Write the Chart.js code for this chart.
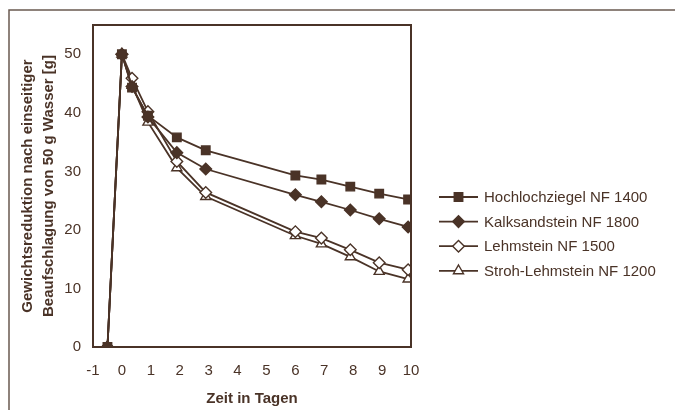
<!DOCTYPE html>
<html>
<head>
<meta charset="utf-8">
<script src="https://cdn.jsdelivr.net/npm/chart.js@4"></script>
<style>
  html, body { margin: 0; padding: 0; background: #fff; }
  #wrap { width: 675px; height: 410px; }
</style>
</head>
<body>
<div id="wrap"><canvas id="myChart" width="675" height="410"></canvas></div>
<script>
const braun = '#4a3327';

// Zeitpunkte (Tage) und Messwerte
const tage = [-0.5, 0, 0.35, 0.9, 1.9, 2.9, 6.0, 6.9, 7.9, 8.9, 9.9];
const hochlochziegel = [0, 50, 44.3, 39.5, 35.8, 33.6, 29.3, 28.6, 27.4, 26.2, 25.2];
const kalksandstein = [0, 50, 44.5, 39.3, 33.2, 30.4, 26.0, 24.8, 23.4, 21.9, 20.5];
const lehmstein = [0, 50, 45.9, 40.2, 31.7, 26.4, 19.7, 18.6, 16.6, 14.4, 13.2];
const strohLehmstein = [0, 50, 44.7, 38.4, 30.6, 25.7, 19.0, 17.6, 15.4, 12.9, 11.6];

const serienNamen = ['Hochlochziegel NF 1400', 'Kalksandstein NF 1800', 'Lehmstein NF 1500', 'Stroh-Lehmstein NF 1200'];
const yTicks = [0, 10, 20, 30, 40, 50];

function punkte(werte) {
    return werte.map((v, i) => ({ x: tage[i], y: v }));
}

const stile = [
    { pointStyle: 'rect', radius: 6, fill: braun },
    { pointStyle: 'rectRot', radius: 5.8, fill: braun },
    { pointStyle: 'rectRot', radius: 5.8, fill: '#ffffff' },
    { pointStyle: 'triangle', radius: 5.8, fill: '#ffffff' }
];
const reihen = [hochlochziegel, kalksandstein, lehmstein, strohLehmstein];

const datasets = reihen.map((werte, i) => ({
    label: serienNamen[i],
    data: punkte(werte),
    showLine: true,
    borderColor: braun,
    borderWidth: 1.8,
    pointStyle: stile[i].pointStyle,
    pointRadius: stile[i].radius,
    pointBackgroundColor: stile[i].fill,
    pointBorderColor: braun,
    pointBorderWidth: 1.4
}));

// Rahmen, Achsenkasten und Legende selbst zeichnen
const rahmenPlugin = {
    id: 'rahmen',
    afterDraw(chart) {
        const c = chart.ctx;
        const a = chart.chartArea;
        c.save();
        c.strokeStyle = '#6a5a50';
        c.lineWidth = 1.5;
        c.beginPath();
        c.moveTo(9, 410);
        c.lineTo(9, 10);
        c.lineTo(675, 10);
        c.stroke();

        c.strokeStyle = braun;
        c.lineWidth = 2;
        c.strokeRect(a.left, a.top, a.right - a.left, a.bottom - a.top);

        // Legende
        c.font = '15px "Liberation Sans", Arial, sans-serif';
        c.textBaseline = 'middle';
        c.textAlign = 'left';
        serienNamen.forEach((name, i) => {
            const y = 197 + i * 24.6;
            c.strokeStyle = braun;
            c.lineWidth = 1.8;
            c.beginPath();
            c.moveTo(439, y);
            c.lineTo(478, y);
            c.stroke();
            c.fillStyle = stile[i].fill;
            c.lineWidth = 1.4;
            Chart.helpers.drawPoint(c, { pointStyle: stile[i].pointStyle, radius: stile[i].radius, rotation: 0, borderWidth: 1.4 }, 458.5, y);
            c.fillStyle = braun;
            c.fillText(name, 484, y + 1);
        });
        c.restore();
    }
};

const ctx = document.getElementById('myChart').getContext('2d');

new Chart(ctx, {
    type: 'scatter',
    data: { datasets: datasets },
    options: {
        responsive: false,
        animation: false,
        layout: { padding: { left: 0, top: 25, right: 264, bottom: 0 } },
        plugins: {
            legend: { display: false },
            tooltip: { enabled: false }
        },
        scales: {
            x: {
                type: 'linear',
                min: -1,
                max: 10,
                grid: { display: false, drawTicks: false },
                border: { display: false },
                ticks: {
                    stepSize: 1,
                    color: braun,
                    padding: 15,
                    font: { family: '"Liberation Sans", Arial, sans-serif', size: 15 }
                },
                title: {
                    display: true,
                    text: 'Zeit in Tagen',
                    color: braun,
                    padding: { top: 0, bottom: 2 },
                    font: { family: '"Liberation Sans", Arial, sans-serif', size: 15, weight: 'bold' }
                },
                afterFit(scale) { scale.height = 63; }
            },
            y: {
                min: 0,
                max: 55,
                grid: { display: false, drawTicks: false },
                border: { display: false },
                afterBuildTicks(scale) { scale.ticks = yTicks.map(v => ({ value: v })); },
                ticks: {
                    color: braun,
                    padding: 12,
                    font: { family: '"Liberation Sans", Arial, sans-serif', size: 15 }
                },
                title: {
                    display: true,
                    text: ['Gewichtsreduktion nach einseitiger', 'Beaufschlagung von 50 g Wasser [g]'],
                    color: braun,
                    padding: { top: 18, bottom: 0 },
                    font: { family: '"Liberation Sans", Arial, sans-serif', size: 15, weight: 'bold', lineHeight: 1.36 }
                },
                afterFit(scale) { scale.width = 93; }
            }
        }
    },
    plugins: [rahmenPlugin]
});
</script>
</body>
</html>
